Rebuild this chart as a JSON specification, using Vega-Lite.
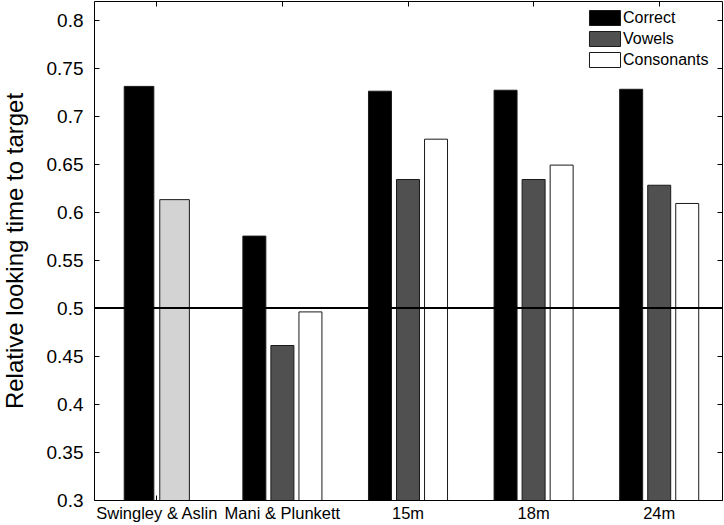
{
  "$schema": "https://vega.github.io/schema/vega-lite/v6.json",
  "width": 628,
  "height": 499,
  "autosize": {"type": "none"},
  "padding": {"left": 94, "top": 1, "right": 2, "bottom": 25},
  "background": "white",
  "config": {
    "font": "Liberation Sans",
    "view": {"stroke": null},
    "axis": {"domainColor": "black", "tickColor": "black", "labelColor": "black", "titleColor": "black", "grid": false, "domainWidth": 1, "tickWidth": 1}
  },
  "data": {
    "values": [
      {"group": "Swingley & Aslin", "cond": "Correct", "value": 0.731},
      {"group": "Swingley & Aslin", "cond": "Mispronounced", "value": 0.613},
      {"group": "Mani & Plunkett", "cond": "Correct", "value": 0.575},
      {"group": "Mani & Plunkett", "cond": "Vowels", "value": 0.461},
      {"group": "Mani & Plunkett", "cond": "Consonants", "value": 0.496},
      {"group": "15m", "cond": "Correct", "value": 0.726},
      {"group": "15m", "cond": "Vowels", "value": 0.634},
      {"group": "15m", "cond": "Consonants", "value": 0.676},
      {"group": "18m", "cond": "Correct", "value": 0.727},
      {"group": "18m", "cond": "Vowels", "value": 0.634},
      {"group": "18m", "cond": "Consonants", "value": 0.649},
      {"group": "24m", "cond": "Correct", "value": 0.728},
      {"group": "24m", "cond": "Vowels", "value": 0.628},
      {"group": "24m", "cond": "Consonants", "value": 0.609}
    ]
  },
  "layer": [
    {
      "transform": [{"filter": "datum.group === 'Swingley & Aslin'"}],
      "mark": {"type": "bar", "stroke": "#1a1a1a", "strokeWidth": 1, "clip": true},
      "encoding": {
        "x": {
          "field": "group", "type": "nominal",
          "sort": ["Swingley & Aslin", "Mani & Plunkett", "15m", "18m", "24m"],
          "scale": {"domain": ["Swingley & Aslin", "Mani & Plunkett", "15m", "18m", "24m"], "paddingInner": 0, "paddingOuter": 0},
          "axis": {"orient": "bottom", "title": null, "labelAngle": 0, "labelFontSize": 16.5, "labelOverlap": false, "labelBound": false, "tickSize": -5, "labelPadding": 10, "bandPosition": 0.5}
        },
        "xOffset": {
          "field": "cond", "type": "nominal",
          "scale": {"domain": ["Correct", "Mispronounced"], "paddingInner": 0.167, "paddingOuter": 0.85}
        },
        "y": {
          "field": "value", "type": "quantitative",
          "scale": {"domain": [0.3, 0.82], "nice": false, "zero": false},
          "axis": {"orient": "left", "title": "Relative looking time to target", "titleFontSize": 24, "titleFontWeight": "normal", "titlePadding": 19, "values": [0.3, 0.35, 0.4, 0.45, 0.5, 0.55, 0.6, 0.65, 0.7, 0.75, 0.8], "format": ".2~f", "labelFontSize": 19, "tickSize": -5, "labelPadding": 16}
        },
        "fill": {
          "field": "cond", "type": "nominal",
          "scale": {"domain": ["Correct", "Vowels", "Consonants", "Mispronounced"], "range": ["#000000", "#505050", "#ffffff", "#d3d3d3"]},
          "legend": {
            "values": ["Correct", "Vowels", "Consonants"],
            "title": null,
            "orient": "none",
            "legendX": 503,
            "legendY": 9,
            "padding": 0,
            "labelFontSize": 16,
            "labelColor": "black",
            "labelOffset": 10,
            "symbolType": "M-2.07,-1H2.07V1H-2.07Z",
            "symbolSize": 225,
            "symbolStrokeColor": "black",
            "symbolStrokeWidth": 1,
            "symbolOpacity": 1,
            "rowPadding": 1
          }
        }
      }
    },
    {
      "transform": [{"filter": "datum.group !== 'Swingley & Aslin'"}],
      "mark": {"type": "bar", "stroke": "#1a1a1a", "strokeWidth": 1, "clip": true},
      "encoding": {
        "x": {"field": "group", "type": "nominal", "sort": ["Swingley & Aslin", "Mani & Plunkett", "15m", "18m", "24m"], "axis": null},
        "xOffset": {
          "field": "cond", "type": "nominal",
          "scale": {"domain": ["Correct", "Vowels", "Consonants"], "paddingInner": 0.18, "paddingOuter": 0.83}
        },
        "y": {"field": "value", "type": "quantitative", "axis": null},
        "fill": {"field": "cond", "type": "nominal"}
      }
    },
    {
      "mark": {"type": "point", "opacity": 0},
      "encoding": {
        "x": {"field": "group", "type": "nominal", "sort": ["Swingley & Aslin", "Mani & Plunkett", "15m", "18m", "24m"],
          "axis": {"orient": "top", "title": null, "labels": false, "tickSize": -5, "bandPosition": 0.5}},
        "y": {"field": "value", "type": "quantitative",
          "axis": {"orient": "right", "title": null, "labels": false, "tickSize": -5, "values": [0.3, 0.35, 0.4, 0.45, 0.5, 0.55, 0.6, 0.65, 0.7, 0.75, 0.8]}}
      }
    },
    {
      "mark": {"type": "rule", "color": "black", "strokeWidth": 1.5},
      "encoding": {
        "y": {"datum": 0.5, "type": "quantitative", "axis": null}
      }
    }
  ],
  "resolve": {
    "scale": {"xOffset": "independent"},
    "axis": {"x": "independent", "y": "independent"}
  }
}
